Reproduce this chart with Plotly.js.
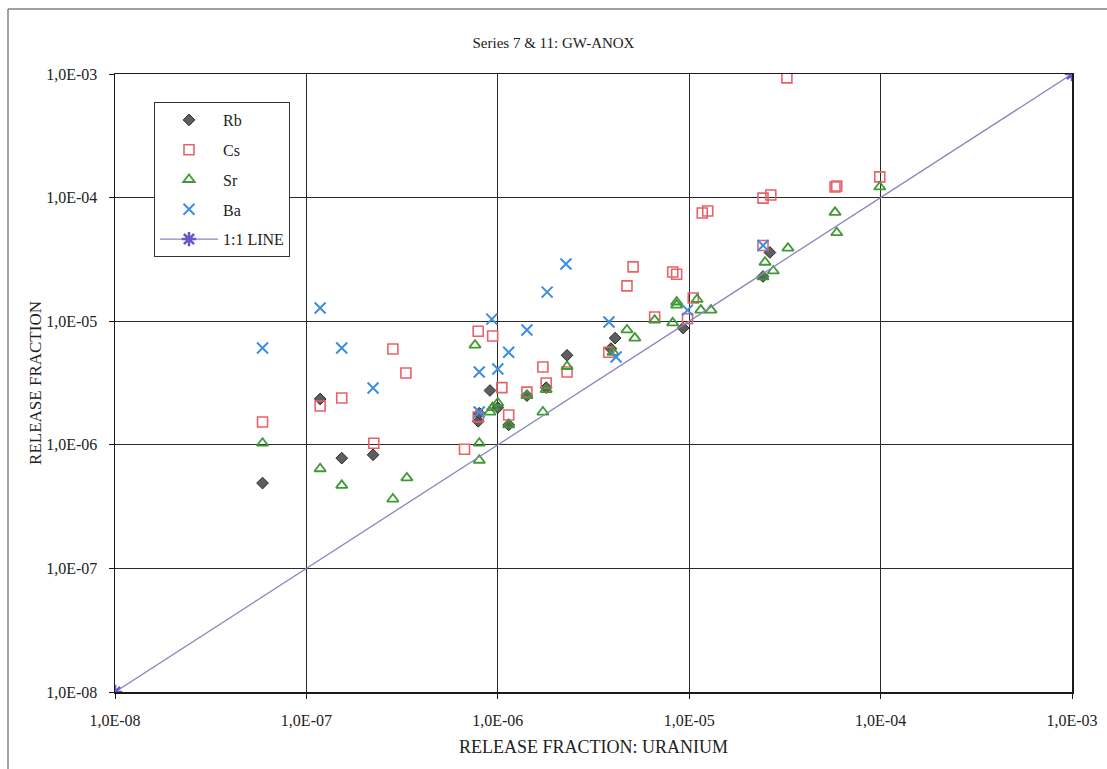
<!DOCTYPE html>
<html><head><meta charset="utf-8">
<script src="https://cdn.plot.ly/plotly-3.0.1.min.js"></script>
<style>html,body{margin:0;padding:0;background:#fff}#chart{width:1107px;height:769px}</style>
</head><body><div id="chart"></div>
<script>
const rbX = [5.9e-8, 1.18e-7, 1.53e-7, 2.23e-7, 7.9e-7, 8.0e-7, 9.1e-7, 1.0e-6, 1.14e-6, 1.42e-6, 1.79e-6, 2.3e-6, 3.9e-6, 4.1e-6, 9.3e-6, 2.43e-5, 2.64e-5];
const rbY = [4.9e-7, 2.35e-6, 7.8e-7, 8.3e-7, 1.55e-6, 1.8e-6, 2.75e-6, 2.0e-6, 1.45e-6, 2.5e-6, 2.9e-6, 5.3e-6, 6.0e-6, 7.3e-6, 8.8e-6, 2.3e-5, 3.6e-5];

const csX = [5.9e-8, 1.18e-7, 1.53e-7, 2.25e-7, 2.83e-7, 3.31e-7, 6.7e-7, 7.9e-7, 7.9e-7, 9.4e-7, 1.05e-6, 1.14e-6, 1.42e-6, 1.72e-6, 1.79e-6, 2.3e-6, 3.8e-6, 4.73e-6, 5.09e-6, 6.6e-6, 8.2e-6, 8.6e-6, 9.8e-6, 1.05e-5, 1.17e-5, 1.25e-5, 2.43e-5, 2.43e-5, 2.67e-5, 3.24e-5, 5.78e-5, 5.9e-5, 9.9e-5];
const csY = [1.53e-6, 2.06e-6, 2.39e-6, 1.03e-6, 5.96e-6, 3.81e-6, 9.2e-7, 8.3e-6, 1.68e-6, 7.6e-6, 2.9e-6, 1.74e-6, 2.67e-6, 4.26e-6, 3.16e-6, 3.88e-6, 5.6e-6, 1.93e-5, 2.75e-5, 1.08e-5, 2.5e-5, 2.4e-5, 1.05e-5, 1.54e-5, 7.5e-5, 7.8e-5, 4.1e-5, 9.9e-5, 1.05e-4, 9.3e-4, 1.22e-4, 1.24e-4, 1.47e-4];

const srX = [5.9e-8, 1.18e-7, 1.53e-7, 2.83e-7, 3.35e-7, 7.6e-7, 8.0e-7, 8.0e-7, 9.1e-7, 9.4e-7, 1.0e-6, 1.14e-6, 1.42e-6, 1.72e-6, 1.79e-6, 2.3e-6, 4.0e-6, 4.73e-6, 5.2e-6, 6.6e-6, 8.2e-6, 8.6e-6, 8.6e-6, 1.1e-5, 1.15e-5, 1.3e-5, 2.43e-5, 2.49e-5, 2.75e-5, 3.28e-5, 5.78e-5, 5.9e-5, 9.9e-5];
const srY = [1.03e-6, 6.4e-7, 4.7e-7, 3.64e-7, 5.4e-7, 6.4e-6, 1.03e-6, 7.5e-7, 1.84e-6, 2.0e-6, 2.18e-6, 1.45e-6, 2.5e-6, 1.84e-6, 2.8e-6, 4.3e-6, 5.6e-6, 8.5e-6, 7.3e-6, 1.02e-5, 9.7e-6, 1.43e-5, 1.35e-5, 1.5e-5, 1.23e-5, 1.23e-5, 2.28e-5, 3.0e-5, 2.55e-5, 3.9e-5, 7.6e-5, 5.2e-5, 1.22e-4];

const baX = [5.9e-8, 1.18e-7, 1.53e-7, 2.23e-7, 8.0e-7, 8.0e-7, 9.3e-7, 1.0e-6, 1.14e-6, 1.42e-6, 1.81e-6, 2.27e-6, 3.81e-6, 4.15e-6, 9.8e-6, 2.43e-5];
const baY = [6.07e-6, 1.28e-5, 6.07e-6, 2.88e-6, 3.88e-6, 1.84e-6, 1.04e-5, 4.1e-6, 5.6e-6, 8.5e-6, 1.72e-5, 2.9e-5, 9.86e-6, 5.13e-6, 1.23e-5, 4.1e-5];

const lineX = [1e-8, 1e-3];
const lineY = [1e-8, 1e-3];

const tickVals = [1e-8, 1e-7, 1e-6, 1e-5, 1e-4, 1e-3];
const tickText = ['1,0E-08', '1,0E-07', '1,0E-06', '1,0E-05', '1,0E-04', '1,0E-03'];

const FONT = '"Liberation Serif", "Times New Roman", Times, serif';

const traces = [
  {x: rbX, y: rbY, name: 'Rb', mode: 'markers', type: 'scatter', legendgroup: 'a',
   marker: {symbol: 'diamond', size: 9, color: '#5e5e5e', line: {color: '#2a2a2a', width: 1}}},
  {x: csX, y: csY, name: 'Cs', mode: 'markers', type: 'scatter', legendgroup: 'b',
   marker: {symbol: 'square-open', size: 10, color: '#e8626a', line: {width: 1.6}}},
  {x: srX, y: srY, name: 'Sr', mode: 'markers', type: 'scatter', legendgroup: 'c',
   marker: {symbol: 'triangle-up-open', size: 10, color: '#3f9a35', line: {width: 1.8}}},
  {x: baX, y: baY, name: 'Ba', mode: 'markers', type: 'scatter', legendgroup: 'd',
   marker: {symbol: 'x-thin-open', size: 11, color: '#3d8ee0', line: {width: 2, color: '#3d8ee0'}}},
  {x: lineX, y: lineY, name: '1:1 LINE', mode: 'lines+markers', type: 'scatter', legendgroup: 'e',
   line: {color: '#8a86bc', width: 1.3},
   marker: {symbol: 'asterisk-open', size: 12, color: '#6e55c8', line: {width: 2.5, color: '#6e55c8'}}}
];

const axisCommon = {
  type: 'log', tickvals: tickVals, ticktext: tickText,
  showgrid: true, gridcolor: '#2a2a2a', gridwidth: 1,
  showline: true, linecolor: '#1a1a1a', linewidth: 1.5, mirror: true,
  ticks: 'outside', ticklen: 5, tickcolor: '#1a1a1a', zeroline: false,
  tickfont: {family: FONT, size: 16, color: '#222'}
};

const layout = {
  width: 1107, height: 769,
  paper_bgcolor: '#ffffff', plot_bgcolor: '#ffffff',
  margin: {l: 115, r: 35, t: 74, b: 77},
  showlegend: true,
  title: {text: 'Series 7 & 11: GW-ANOX', font: {family: FONT, size: 15, color: '#222'},
          x: 0.5, xanchor: 'center', y: 1 - 43/769, yanchor: 'middle'},
  xaxis: Object.assign({}, axisCommon, {range: [-8, -3], ticklabelstandoff: 8,
    title: {text: 'RELEASE FRACTION: URANIUM', font: {family: FONT, size: 18, color: '#222'}, standoff: 12}}),
  yaxis: Object.assign({}, axisCommon, {range: [-8, -3], ticklabelstandoff: 8,
    title: {text: 'RELEASE FRACTION', font: {family: FONT, size: 17, color: '#222'}, standoff: 0}}),
  legend: {x: (154-115)/957, y: (692-102)/618, xanchor: 'left', yanchor: 'top',
    bgcolor: '#ffffff', bordercolor: '#333', borderwidth: 1,
    font: {family: FONT, size: 16, color: '#222'}, tracegroupgap: 6, itemwidth: 58},
  shapes: [
    {type: 'rect', xref: 'paper', yref: 'paper', layer: 'below',
     x0: (8-115)/957, x1: (1125-115)/957, y0: (692-790)/618, y1: (692-9)/618,
     line: {color: '#444', width: 1}, fillcolor: 'rgba(0,0,0,0)'}
  ]
};

Plotly.newPlot('chart', traces, layout, {displayModeBar: false, staticPlot: true});
</script></body></html>
